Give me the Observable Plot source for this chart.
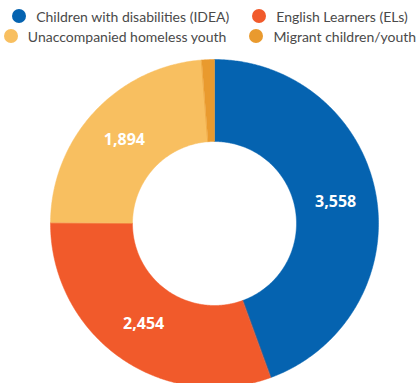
<!DOCTYPE html>
<html>
<head>
<meta charset="utf-8">
<script src="https://cdn.jsdelivr.net/npm/d3@7"></script>
<script src="https://cdn.jsdelivr.net/npm/@observablehq/plot@0.6"></script>
<style>
  html, body { margin: 0; padding: 0; background: #fff; }
  body { width: 420px; height: 383px; overflow: hidden; font-family: Lato, "Open Sans", sans-serif; }
  .legend { height: 45px; padding-top: 6px; box-sizing: border-box; }
  .row { display: flex; justify-content: center; gap: 23px; height: 20px; align-items: center; }
  .item { display: flex; align-items: center; gap: 10px; font-size: 14px; color: #4a4a4a; white-space: nowrap; }
  .dot { width: 14px; height: 14px; border-radius: 50%; flex: none; }
  #chart svg { display: block; }
</style>
</head>
<body>
<div class="legend" id="legend"></div>
<div id="chart"></div>
<script>
// Student groups and their counts
const groups = [
  "Children with disabilities (IDEA)",
  "English Learners (ELs)",
  "Unaccompanied homeless youth",
  "Migrant children/youth"
];
const counts = [3558, 2454, 1894, 100];
const colors = ["#0563b0", "#f15a2b", "#f8bf60", "#e99a2e"];
const legendRows = [[0, 1], [2, 3]];

// Legend above the chart
const legend = document.getElementById("legend");
for (const row of legendRows) {
  const r = document.createElement("div");
  r.className = "row";
  for (const i of row) {
    const it = document.createElement("div");
    it.className = "item";
    it.innerHTML = `<span class="dot" style="background:${colors[i]}"></span><span>${groups[i]}</span>`;
    r.appendChild(it);
  }
  legend.appendChild(r);
}

// Donut geometry in units of the outer radius
const inner = 0.5;
const pie = d3.pie().sort(null).value(d => d.count)(
  groups.map((g, i) => ({group: g, count: counts[i]}))
);

// Ring outline for each slice, sampled along its arc
const ring = [];
for (const a of pie) {
  const n = Math.max(4, Math.ceil((a.endAngle - a.startAngle) / 0.01));
  const pts = [];
  for (let k = 0; k <= n; k++) {
    const t = a.startAngle + (a.endAngle - a.startAngle) * k / n;
    pts.push([Math.sin(t), Math.cos(t)]);
  }
  for (let k = n; k >= 0; k--) {
    const t = a.startAngle + (a.endAngle - a.startAngle) * k / n;
    pts.push([inner * Math.sin(t), inner * Math.cos(t)]);
  }
  for (const [x, y] of pts) ring.push({group: a.data.group, x, y});
}

// Value labels at the middle of each labelled slice
const labels = pie.filter(a => a.data.count > 500).map(a => {
  const t = (a.startAngle + a.endAngle) / 2;
  const r = (1 + inner) / 2;
  return {x: r * Math.sin(t), y: r * Math.cos(t), text: d3.format(",")(a.data.count)};
});

const cx = 214, cy = 178, R = 164;
const chart = Plot.plot({
  width: 420,
  height: 338,
  margin: 0,
  x: {domain: [-1, 1], range: [cx - R, cx + R], axis: null},
  y: {domain: [-1, 1], range: [cy + R, cy - R], axis: null},
  color: {domain: groups, range: colors},
  marks: [
    Plot.line(ring, {x: "x", y: "y", z: "group", fill: "group", stroke: "group", strokeWidth: 0.5, curve: "linear-closed"}),
    Plot.text(labels, {x: "x", y: "y", text: "text", fill: "white", fontSize: 16, fontWeight: "bold", fontFamily: "'Open Sans', Lato, sans-serif"})
  ]
});
document.getElementById("chart").appendChild(chart);
</script>
</body>
</html>
